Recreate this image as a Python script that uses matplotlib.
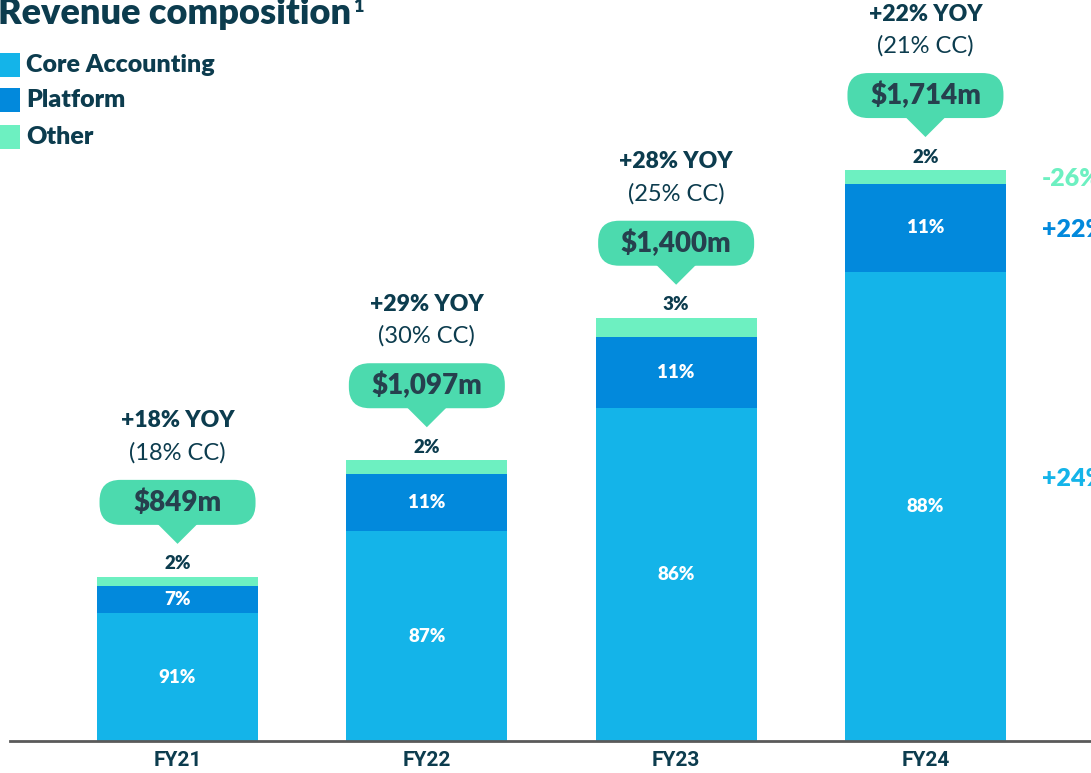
import numpy as np
import matplotlib.pyplot as plt
from matplotlib.patches import FancyBboxPatch, Polygon, Rectangle

# data ($m)
years = ["FY21", "FY22", "FY23", "FY24"]
totals = [849, 1097, 1400, 1714]
core = [772, 946, 1207, 1497]
platform = [57, 121, 152, 188]
other = [20, 30, 41, 29]

core_pct = ["91%", "87%", "86%", "88%"]
platform_pct = ["7%", "11%", "11%", "11%"]
other_pct = ["2%", "2%", "3%", "2%"]
yoy = ["+18% YOY", "+29% YOY", "+28% YOY", "+22% YOY"]
cc = ["(18% CC)", "(30% CC)", "(25% CC)", "(21% CC)"]
total_lbl = ["\\$849m", "\\$1,097m", "\\$1,400m", "\\$1,714m"]
growth = ["+24%", "+22%", "-26%"]   # core, platform, other (FY24 yoy)

# colours
c_core = "#14b4e9"
c_plat = "#0289dc"
c_other = "#6df0c1"
c_bubble = "#4cdaae"
dark = "#0c3c4e"
bub_txt = "#26404e"
BW = 'heavy'

plt.rcParams['font.family'] = ['Lato', 'DejaVu Sans']

W, H = 1091, 773
fig = plt.figure(figsize=(W / 100, H / 100), dpi=100)
ax = fig.add_axes([10 / W, 32 / H, 1081 / W, 741 / H])

xl, xr = -0.672, 3.664
ymin = 500
ytop = ymin + 741 / 0.4703
ax.set_xlim(xl, xr)
ax.set_ylim(ymin, ytop)
px_x = (xr - xl) / 1081   # data units per pixel
px_y = (ytop - ymin) / 741

x = np.arange(len(years))
bw = 0.646
core_a = np.array(core)
plat_a = np.array(platform)
oth_a = np.array(other)

ax.bar(x, core_a, bw, color=c_core)
ax.bar(x, plat_a, bw, bottom=core_a, color=c_plat)
ax.bar(x, oth_a, bw, bottom=core_a + plat_a, color=c_other)

for s in ['top', 'right', 'left']:
    ax.spines[s].set_visible(False)
ax.spines['bottom'].set_color('#5a5a5a')
ax.spines['bottom'].set_linewidth(2)
ax.set_yticks([])
ax.set_xticks(x)
ax.set_xticklabels(years, fontweight='bold', fontsize=15, color=dark,
                   family=['Roboto', 'DejaVu Sans'])
ax.tick_params(axis='x', length=0, pad=7)

for i in range(len(years)):
    top = core_a[i] + plat_a[i] + oth_a[i]
    # inside labels
    ax.text(x[i], (ymin + core_a[i]) / 2, core_pct[i], ha='center', va='center',
            color='white', fontweight=BW, fontsize=13.5)
    ax.text(x[i], core_a[i] + plat_a[i] / 2, platform_pct[i], ha='center', va='center',
            color='white', fontweight=BW, fontsize=13.5)
    ax.annotate(other_pct[i], (x[i], top), xytext=(0, 13), textcoords='offset pixels',
                ha='center', va='center', color=dark, fontweight=BW, fontsize=13.5)

    # speech bubble
    bub_w = 156 * px_x
    bub_h = 45 * px_y
    bub_bot = top + 52 * px_y
    r = 21 * px_x
    box = FancyBboxPatch((x[i] - bub_w / 2, bub_bot), bub_w, bub_h,
                         boxstyle="round,pad=0,rounding_size=%f" % r,
                         mutation_aspect=px_y / px_x, fc=c_bubble, ec='none',
                         clip_on=False)
    ax.add_patch(box)
    tri = Polygon([(x[i] - 20 * px_x, bub_bot + 1 * px_y),
                   (x[i] + 20 * px_x, bub_bot + 1 * px_y),
                   (x[i], bub_bot - 19 * px_y)], closed=True, fc=c_bubble, ec='none',
                  clip_on=False)
    ax.add_patch(tri)
    ax.text(x[i], bub_bot + bub_h / 2, total_lbl[i], ha='center', va='center',
            color=bub_txt, fontweight=BW, fontsize=20, clip_on=False)

    ax.annotate(cc[i], (x[i], top), xytext=(0, 124), textcoords='offset pixels',
                ha='center', va='center', color=dark, fontsize=17)
    ax.annotate(yoy[i], (x[i], top), xytext=(0, 156), textcoords='offset pixels',
                ha='center', va='center', color=dark, fontweight=BW, fontsize=16.5)

# FY24 segment growth labels on the right
last = len(years) - 1
gx = x[last] + bw / 2
seg_y = [(ymin + core_a[last]) / 2 + 30 * px_y,
         core_a[last] + plat_a[last] / 2,
         core_a[last] + plat_a[last] + oth_a[last] / 2]
for lbl, yy, col in zip(growth, seg_y, [c_core, c_plat, c_other]):
    ax.annotate(lbl, (gx, yy), xytext=(36, -2), textcoords='offset pixels',
                ha='left', va='center', color=col, fontweight=BW, fontsize=18,
                annotation_clip=False)

# title
def fx(px):
    return px / W

def fy(py):
    return 1 - py / H

t = fig.text(fx(-2), fy(24), "Revenue composition", fontsize=26, fontweight=BW,
             color=dark, ha='left', va='baseline')
fig.canvas.draw()
bb = t.get_window_extent()
fig.text(bb.x1 / W + 2 / W, fy(12), "1", fontsize=13, fontweight=BW,
         color=dark, ha='left', va='baseline')

# legend
leg_lbl = ["Core Accounting", "Platform", "Other"]
leg_col = [c_core, c_plat, c_other]
leg_y = [65, 100, 137]
for lbl, col, yy in zip(leg_lbl, leg_col, leg_y):
    fig.add_artist(Rectangle((fx(0), fy(yy + 12)), 20 / W, 24 / H,
                             transform=fig.transFigure, fc=col, ec='none'))
    fig.text(fx(26), fy(yy), lbl, fontsize=18, fontweight=BW, color=dark,
             ha='left', va='center')

fig.savefig("out.png", dpi=100)
